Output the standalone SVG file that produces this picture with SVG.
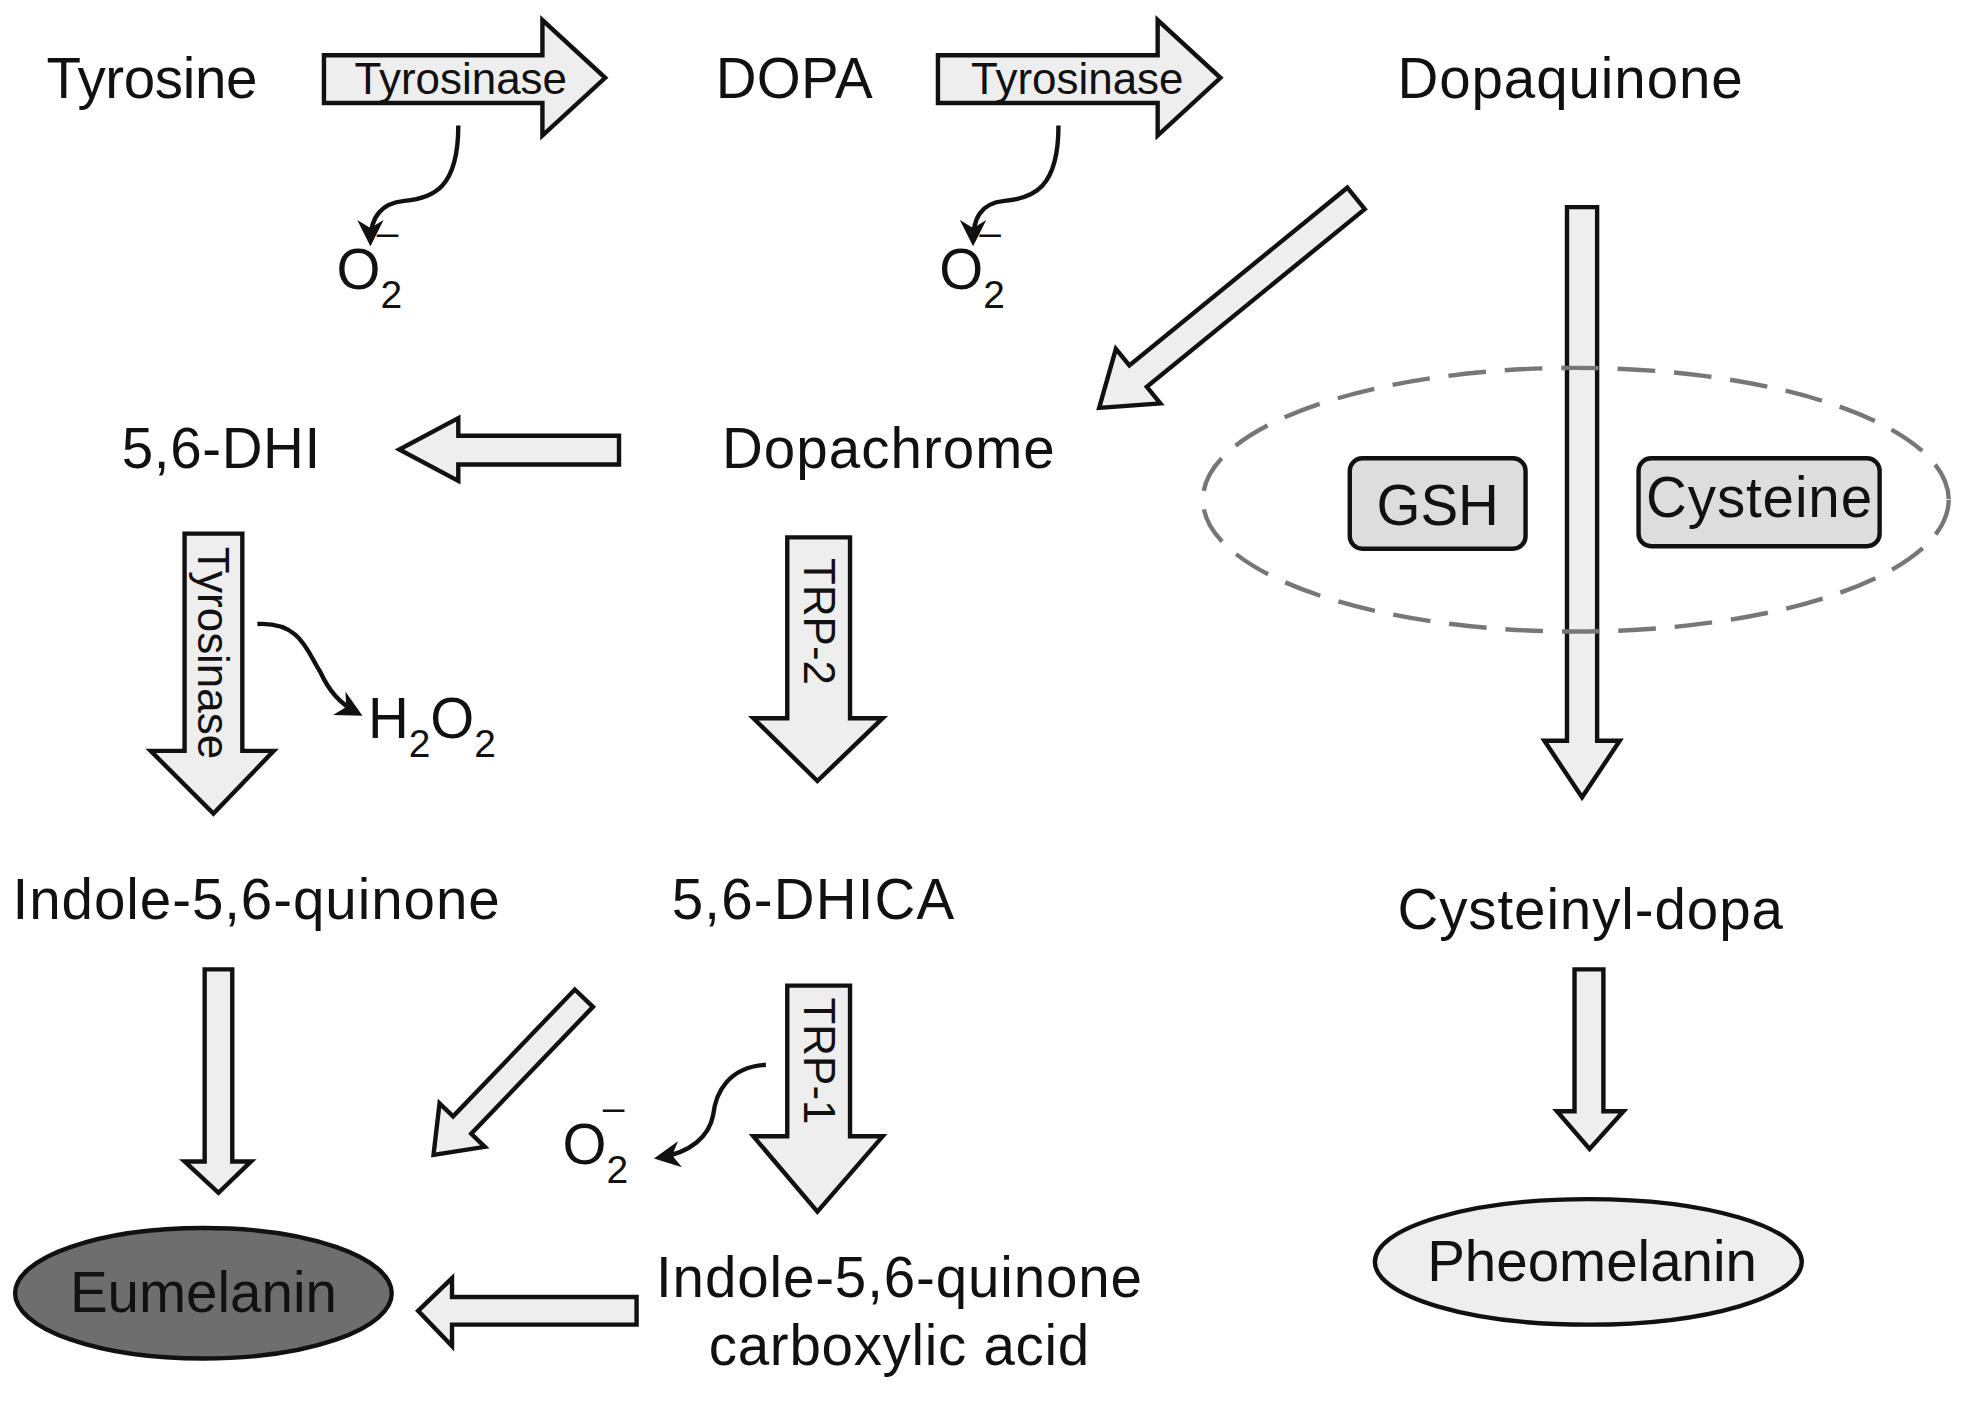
<svg xmlns="http://www.w3.org/2000/svg" width="1965" height="1402" viewBox="0 0 1965 1402">
<style>
text{font-family:"Liberation Sans",Arial,sans-serif;fill:#111}
.t{font-size:45px}
.s{font-size:31px}
.lab{font-size:35px;text-anchor:middle}
.fa{fill:#eeeeee;stroke:#111;stroke-width:3.5;stroke-linejoin:miter}
.w{fill:none;stroke:#111;stroke-width:3.5}
</style>
<defs>
<marker id="ah" viewBox="0 0 10 10" refX="8" refY="5" markerWidth="6" markerHeight="6" orient="auto" markerUnits="strokeWidth">
<path d="M0,0 L10,5 L0,10 L3,5 Z" fill="#111"/>
</marker>
</defs>
<rect width="1965" height="1402" fill="#fff"/>
<g transform="scale(1.2556)">
<g id="connectors">
<polygon class="fa" points="258,44 432,44 432,16 482,62 432,108 432,82 258,82"/>
<text class="lab" x="367" y="75">Tyrosinase</text>
<polygon class="fa" points="747,44 922,44 922,16 972,62 922,108 922,82 747,82"/>
<text class="lab" x="858" y="75">Tyrosinase</text>
<path class="w" d="M365,100 C365,150 345,158 322,160 C302,162 295,175 295,192" marker-end="url(#ah)"/>
<path class="w" d="M843,100 C843,150 823,158 800,160 C780,162 775,175 775,192" marker-end="url(#ah)"/>
<polygon class="fa" transform="translate(1080,158) rotate(140.8)" points="0,-11 224,-11 224,-28 264,0 224,28 224,11 0,11"/>
<polygon class="fa" points="1248,165 1272,165 1272,590 1290,590 1260,635 1230,590 1248,590"/>
<polygon class="fa" points="493,347 365,347 365,333 318,358 365,383 365,370 493,370"/>
<polygon class="fa" points="147,425 193,425 193,598 218,598 170,648 120,598 147,598"/>
<text class="lab" transform="translate(170,520) rotate(90)" y="12">Tyrosinase</text>
<path class="w" d="M205,497 C240,495 245,520 255,535 C262,550 270,560 285,568" marker-end="url(#ah)"/>
<polygon class="fa" points="627,428 677,428 677,572 703,572 651,622 600,572 627,572"/>
<text class="lab" transform="translate(652,495) rotate(90)" y="12">TRP-2</text>
<polygon class="fa" points="163,772 185,772 185,925 200,925 174,950 147,925 163,925"/>
<polygon class="fa" transform="translate(465,795) rotate(133.8)" points="0,-10 140,-10 140,-25 173,0 140,25 140,10 0,10"/>
<polygon class="fa" points="627,785 677,785 677,905 703,905 651,965 600,905 627,905"/>
<text class="lab" transform="translate(652,845) rotate(90)" y="12">TRP-1</text>
<path class="w" d="M610,848 C580,850 570,870 568,888 C565,905 550,918 525,922" marker-end="url(#ah)"/>
<polygon class="fa" points="507,1033 360,1033 360,1018 333,1044 360,1072 360,1055 507,1055"/>
<polygon class="fa" points="1254,772 1277,772 1277,885 1293,885 1266,915 1240,885 1254,885"/>
</g>
<g id="tyrosine"><text class="t" x="37" y="78" textLength="168">Tyrosine</text></g>
<g id="dopa"><text class="t" x="570" y="78" textLength="125">DOPA</text></g>
<g id="dopaquinone"><text class="t" x="1113" y="78" textLength="275">Dopaquinone</text></g>
<g id="o2a"><text class="t" x="268" y="230">O<tspan class="s" dy="15">2</tspan></text><text class="s" x="300" y="196">–</text></g>
<g id="o2b"><text class="t" x="748" y="230">O<tspan class="s" dy="15">2</tspan></text><text class="s" x="780" y="196">–</text></g>
<g id="dhi"><text class="t" x="97" y="373" textLength="158">5,6-DHI</text></g>
<g id="dopachrome"><text class="t" x="575" y="373" textLength="265">Dopachrome</text></g>
<g id="thiols">
<ellipse cx="1255" cy="398" rx="297" ry="105" fill="none" stroke="#777" stroke-width="3.5" stroke-dasharray="30,15"/>
</g>
<g id="gsh"><rect x="1075" y="365" width="140" height="72" rx="10" fill="#dddddd" stroke="#111" stroke-width="3.5"/><text class="t" x="1145" y="418" text-anchor="middle">GSH</text></g>
<g id="cysteine"><rect x="1305" y="365" width="192" height="70" rx="10" fill="#dddddd" stroke="#111" stroke-width="3.5"/><text class="t" x="1401" y="412" text-anchor="middle" textLength="180">Cysteine</text></g>
<g id="h2o2"><text class="t" x="293" y="588">H<tspan class="s" dy="15">2</tspan><tspan dy="-15">O</tspan><tspan class="s" dy="15">2</tspan></text></g>
<g id="indolequinone"><text class="t" x="10" y="732" textLength="388">Indole-5,6-quinone</text></g>
<g id="dhica"><text class="t" x="535" y="732" textLength="225">5,6-DHICA</text></g>
<g id="cysteinyldopa"><text class="t" x="1113" y="740" textLength="307">Cysteinyl-dopa</text></g>
<g id="o2c"><text class="t" x="448" y="927">O<tspan class="s" dy="15">2</tspan></text><text class="s" x="480" y="893">–</text></g>
<g id="eumelanin"><ellipse cx="162" cy="1030" rx="150" ry="52" fill="#6e6e6e" stroke="#111" stroke-width="3.5"/><text class="t" x="162" y="1045" text-anchor="middle" fill="#1a1a1a">Eumelanin</text></g>
<g id="iqca"><text class="t" x="716" y="1033" text-anchor="middle" textLength="387">Indole-5,6-quinone</text><text class="t" x="716" y="1087" text-anchor="middle" textLength="303">carboxylic acid</text></g>
<g id="pheomelanin"><ellipse cx="1265" cy="1005" rx="170" ry="50" fill="#eeeeee" stroke="#111" stroke-width="3.5"/><text class="t" x="1268" y="1020" text-anchor="middle">Pheomelanin</text></g>
</g>
</svg>
